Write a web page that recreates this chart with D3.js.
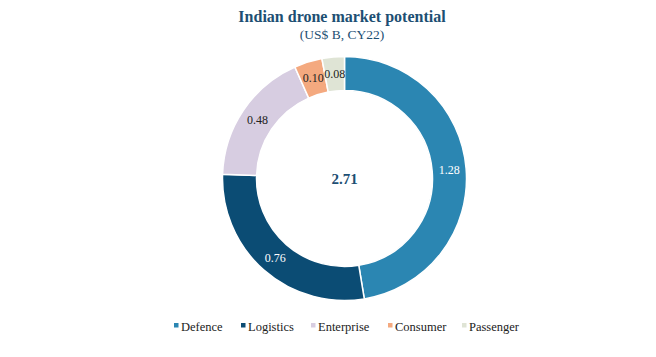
<!DOCTYPE html>
<html>
<head>
<meta charset="utf-8">
<script src="https://cdn.jsdelivr.net/npm/d3@7"></script>
<style>
html,body{margin:0;padding:0;background:#fff;}
svg{display:block;font-family:"Liberation Serif","Times New Roman",serif;}
</style>
</head>
<body>
<svg id="chart" width="656" height="357"></svg>
<script>
const categories = ["Defence", "Logistics", "Enterprise", "Consumer", "Passenger"];
const values = [1.28, 0.76, 0.48, 0.10, 0.08];
const colors = ["#2b86b2", "#0b4c74", "#d7cde1", "#f4a97f", "#dfe4d5"];
const labelColors = ["#ffffff", "#ffffff", "#222222", "#222222", "#222222"];
const totalLabel = "2.71";
const title = "Indian drone market potential";
const subtitle = "(US$ B, CY22)";

const svg = d3.select("#chart");
const cx = 344.5, cy = 178.5, rOuter = 122, rInner = 88;

svg.append("text").attr("x", 342).attr("y", 22).attr("text-anchor", "middle")
  .attr("font-size", 16).attr("font-weight", "bold").attr("fill", "#1d4f73").text(title);
svg.append("text").attr("x", 342).attr("y", 39).attr("text-anchor", "middle")
  .attr("font-size", 13.5).attr("fill", "#1d4f73").text(subtitle);

const data = categories.map((c, i) => ({cat: c, value: values[i], color: colors[i], lc: labelColors[i]}));
const pie = d3.pie().value(d => d.value).sort(null).startAngle(0).endAngle(2 * Math.PI);
const arc = d3.arc().innerRadius(rInner).outerRadius(rOuter);
const labelArc = d3.arc().innerRadius((rInner + rOuter) / 2).outerRadius((rInner + rOuter) / 2);

const g = svg.append("g").attr("transform", `translate(${cx},${cy})`);
const arcs = pie(data);
g.selectAll("path").data(arcs).join("path")
  .attr("d", arc).attr("fill", d => d.data.color)
  .attr("stroke", "#fff").attr("stroke-width", 1.5);

g.selectAll("text.lbl").data(arcs).join("text").attr("class", "lbl")
  .attr("transform", d => `translate(${labelArc.centroid(d)})`)
  .attr("text-anchor", "middle").attr("dy", "0.35em")
  .attr("font-size", 12).attr("fill", d => d.data.lc)
  .text(d => d.data.value.toFixed(2));

g.append("text").attr("x", 0).attr("y", 0).attr("dy", "0.35em").attr("text-anchor", "middle")
  .attr("font-size", 15).attr("font-weight", "bold").attr("fill", "#1d4f73").text(totalLabel);

// legend
const legendX = [174, 241, 311, 388, 462];
const lg = svg.append("g");
data.forEach((d, i) => {
  const item = lg.append("g").attr("transform", `translate(${legendX[i]},327)`);
  item.append("rect").attr("x", 0).attr("y", -4).attr("width", 4.5).attr("height", 4.5).attr("fill", d.color);
  item.append("text").attr("x", 7).attr("y", 0).attr("dy", "0.35em")
    .attr("font-size", 12.5).attr("fill", "#222").text(d.cat);
});
</script>
</body>
</html>
